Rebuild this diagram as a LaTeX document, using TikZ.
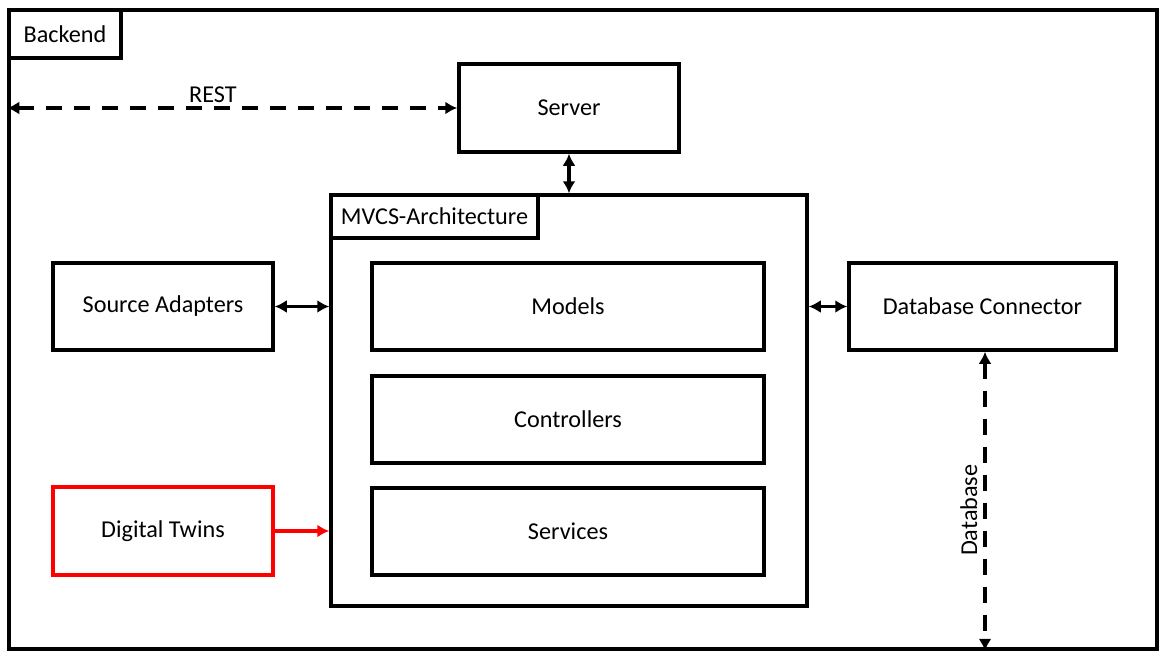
\documentclass[tikz,border=0pt]{standalone}
\usepackage{fontspec}
\setmainfont{Carlito}
\usetikzlibrary{arrows.meta}
\begin{document}
\begin{tikzpicture}[x=1pt,y=-1pt,
  every node/.style={font=\fontsize{24.2}{28}\selectfont},
  box/.style={draw,line width=3.5pt,rectangle,inner sep=0pt},
  tab/.style={draw,line width=3.5pt,rectangle,inner sep=0pt,fill=white},
  link/.style={line width=3.5pt,{Latex[length=12pt,width=13pt]}-{Latex[length=12pt,width=13pt]}},
  dlink/.style={link,dash pattern=on 16pt off 12pt},
  redlink/.style={line width=3.5pt,red,-{Latex[length=12pt,width=13pt]}}]
\useasboundingbox (0,0) rectangle (1165,659);
\node[box,minimum width=1148pt,minimum height=639pt] (frame) at (583,329.5) {};
\node[tab,minimum width=112pt,minimum height=48pt] (backend) at (65,34) {Backend};
\node[box,minimum width=220pt,minimum height=88pt] (server) at (569,108) {Server};
\node[box,minimum width=476pt,minimum height=411pt] (mvcs) at (569,400.5) {};
\node[tab,minimum width=207pt,minimum height=43pt] (mvcstab) at (434.5,216.5) {MVCS-Architecture};
\node[box,minimum width=392pt,minimum height=87pt] (models) at (568,306.5) {Models};
\node[box,minimum width=392pt,minimum height=87pt] (controllers) at (568,419.5) {Controllers};
\node[box,minimum width=392pt,minimum height=87pt] (services) at (568,531.5) {Services};
\node[box,minimum width=220pt,minimum height=87pt] (source) at (163,306.5) {Source Adapters};
\node[box,draw=red,minimum width=220pt,minimum height=88pt] (twins) at (163,531) {Digital Twins};
\node[box,minimum width=267pt,minimum height=87pt] (dbc) at (982.5,306.5) {Database Connector};
\coordinate (restend) at (frame.west |- server.west);
\coordinate (dbtop) at ([xshift=2.5pt]dbc.south);
\coordinate (dbend) at (dbtop |- frame.south);
\draw[dlink] (restend) -- node[pos=0.457,above,inner sep=4pt] (rest) {REST} (server.west);
\draw[link] (server.south) -- (mvcs.north);
\draw[link] (source.east) -- (mvcs.west |- source.east);
\draw[link] (mvcs.east |- dbc.west) -- (dbc.west);
\draw[redlink] (twins.east) -- (mvcs.west |- twins.east);
\draw[dlink] (dbtop) -- node[pos=0.53,rotate=90,anchor=south,inner sep=6pt] (dblabel) {Database} (dbend);
\end{tikzpicture}
\end{document}
